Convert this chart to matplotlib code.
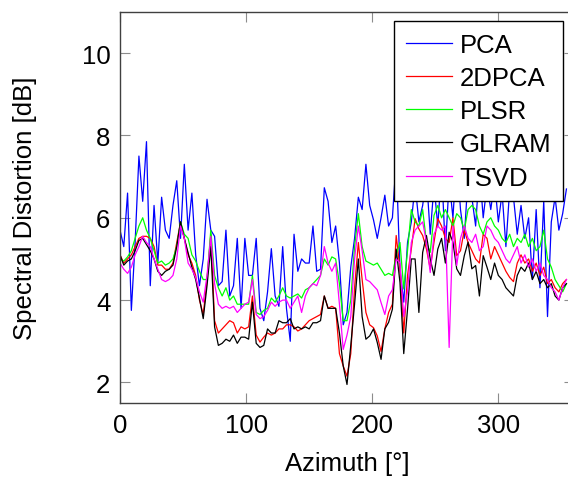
import numpy as np
import matplotlib
matplotlib.use("Agg")
import matplotlib.pyplot as plt

plt.rcParams['font.family'] = ['Liberation Sans', 'DejaVu Sans']

azimuth = list(range(0, 355, 3))

pca = [5.7, 5.3, 6.6, 3.75, 5.4, 7.5, 6.4, 7.85, 4.35, 6.3,
       4.9, 6.5, 5.7, 5.5, 6.3, 6.9, 5.5, 7.3, 5.7, 6.6,
       5.1, 4.35, 5.0, 6.45, 5.7, 5.55, 4.35, 4.45, 5.7, 4.1,
       4.35, 5.5, 3.8, 5.5, 4.6, 4.6, 5.5, 3.8, 3.5, 4.2,
       5.25, 4.1, 3.85, 5.3, 3.8, 3.0, 5.6, 4.7, 5.0, 4.9,
       4.9, 5.8, 4.7, 4.75, 6.73, 6.4, 5.4, 5.8, 4.9, 3.4,
       3.7, 4.8, 5.5, 6.5, 6.2, 7.3, 6.3, 5.95, 5.5, 6.0,
       6.55, 5.8, 6.0, 7.4, 4.76, 3.95, 5.4, 5.9, 6.8, 5.9,
       6.3, 7.0, 5.6, 6.8, 5.8, 7.2, 5.2, 6.9, 6.0, 7.5,
       6.2, 5.5, 7.0, 6.5, 5.8, 7.2, 6.0, 6.8, 6.2, 6.9,
       5.9, 6.6, 5.3, 6.7, 6.5, 5.6, 6.3, 5.5, 6.0, 4.5,
       6.2, 4.3, 6.4, 3.6, 5.9, 6.5, 5.7, 6.1, 6.7]

dpca2 = [5.1, 4.9, 5.0, 5.1, 5.3, 5.5, 5.55, 5.55, 5.5, 5.3,
         4.85, 4.85, 4.75, 4.75, 4.9, 5.4, 5.9, 5.5, 5.1, 4.9,
         4.6, 4.0, 3.65, 4.5, 5.6, 3.5, 3.2, 3.3, 3.4, 3.5,
         3.45, 3.2, 3.35, 3.3, 3.35, 4.1, 3.15, 2.98, 3.1, 3.2,
         3.15, 3.2, 3.3, 3.3, 3.4, 3.4, 3.35, 3.25, 3.3, 3.4,
         3.5, 3.55, 3.6, 3.65, 4.1, 3.8, 3.85, 3.8, 2.7, 2.4,
         2.15, 2.7, 4.3, 5.4, 4.5, 3.7, 3.4, 3.33, 3.13, 2.75,
         3.3, 3.7, 3.9, 5.57, 4.76, 3.2, 4.6, 5.24, 5.98, 5.73,
         5.57, 5.24, 4.76, 5.41, 5.98, 5.8, 5.5, 5.4, 6.0, 5.08,
         5.2, 5.7, 5.4, 5.2, 5.0, 4.9, 5.6, 5.5, 5.0, 5.3,
         5.1, 4.9, 4.7, 4.55, 4.45, 4.9, 5.1, 4.9, 5.0, 4.7,
         4.9, 4.6, 4.8, 4.4, 4.5, 4.3, 4.2, 4.4, 4.5]

plsr = [5.0, 4.95, 5.05, 5.2, 5.5, 5.8, 6.0, 5.7, 5.5, 5.2,
        4.9, 4.95, 4.85, 4.9, 5.0, 5.3, 5.9, 5.6, 5.5, 5.1,
        4.95, 4.7, 4.5, 4.5, 5.7, 4.6, 4.3, 4.1, 4.3, 4.0,
        4.1, 3.9, 3.9, 3.9, 3.9, 4.6, 3.7, 3.65, 3.75, 3.8,
        4.05, 3.95, 4.1, 4.3, 4.1, 4.05, 4.1, 4.15, 4.05, 4.25,
        4.3, 4.4, 4.5, 4.6, 5.0, 4.85, 5.05, 5.0, 4.4, 3.5,
        3.5, 4.0, 5.3, 6.1, 5.3, 4.95, 4.9, 4.85, 4.9, 4.75,
        4.6, 4.65, 4.6, 5.1, 5.4, 4.27, 5.2, 6.2, 5.9, 5.8,
        6.2, 5.4, 5.16, 6.06, 6.3, 6.0, 6.2, 6.0, 5.8, 6.1,
        6.0, 5.7, 6.2, 6.3, 6.2, 5.8, 5.6, 5.9, 6.0, 5.8,
        5.7, 5.5, 5.4, 5.6, 5.3, 5.5, 5.4, 5.6, 5.3, 5.5,
        5.2, 5.3, 5.7, 5.0, 4.8, 4.5, 4.35, 4.2, 4.4]

glram = [5.1, 4.85, 4.95, 5.0, 5.2, 5.45, 5.5, 5.35, 5.2, 5.0,
         4.7, 4.6, 4.7, 4.75, 4.85, 5.3, 5.9, 5.5, 5.15, 4.8,
         4.5, 4.05, 3.55, 4.35, 5.3, 3.35, 2.9, 2.95, 3.05, 3.0,
         3.15, 2.95, 3.1, 3.1, 3.05, 3.95, 2.95, 2.85, 2.9, 3.3,
         3.2, 3.2, 3.5, 3.45, 3.45, 3.55, 3.3, 3.35, 3.3, 3.35,
         3.3, 3.45, 3.45, 3.5, 4.1, 3.8, 3.8, 3.8, 3.2, 2.4,
         1.95, 2.9, 3.9, 5.0, 3.6, 3.05, 3.13, 3.3, 2.97, 2.56,
         3.3, 3.46, 3.78, 5.24, 4.43, 2.7, 3.78, 5.0, 5.0, 3.7,
         5.16, 5.57, 5.0, 4.6, 5.24, 5.5, 4.9, 5.65, 5.41, 4.76,
         4.6, 5.08, 5.41, 4.76, 4.84, 4.1, 5.08, 4.8, 4.5, 4.9,
         4.6, 4.5, 4.3, 4.2, 4.1, 4.6, 4.8, 4.7, 4.9, 4.5,
         4.7, 4.4, 4.5, 4.3, 4.4, 4.1, 4.0, 4.3, 4.4]

tsvd = [4.9, 4.75, 4.65, 4.8, 5.1, 5.3, 5.55, 5.4, 5.3, 5.0,
        4.75, 4.5, 4.45, 4.5, 4.6, 5.0, 5.8, 5.5, 4.9, 4.75,
        4.55, 4.2, 3.95, 4.6, 5.55, 4.4, 3.9, 3.8, 3.85, 3.8,
        3.85, 3.7, 3.8, 3.9, 3.95, 4.5, 3.65, 3.55, 3.6, 3.75,
        3.95, 3.85, 3.95, 4.0, 4.0, 3.8, 3.95, 4.1, 3.7, 4.1,
        4.3, 4.4, 4.35, 4.6, 5.3, 4.9, 4.7, 4.9, 3.9, 2.8,
        3.15, 3.6, 5.0, 5.8, 5.2, 4.5, 4.45, 4.35, 4.25, 3.94,
        3.65, 4.1, 4.25, 5.0, 4.9, 3.6, 4.2, 5.4, 5.7, 5.8,
        5.9, 5.4, 4.67, 5.6, 5.8, 5.7, 5.8, 2.85, 5.8, 4.84,
        5.5, 5.8, 5.5, 5.4, 5.6, 5.2, 5.3, 5.8, 5.7, 5.5,
        5.4, 5.2, 5.0, 4.9, 5.1, 5.3, 4.9, 5.1, 4.8, 5.0,
        4.7, 4.9, 4.6, 4.5, 4.3, 4.2, 4.0, 4.3, 4.5]

series = [("PCA", pca, "#0000ff"), ("2DPCA", dpca2, "#ff0000"),
          ("PLSR", plsr, "#00ff00"), ("GLRAM", glram, "#000000"),
          ("TSVD", tsvd, "#ff00ff")]

W, H = 568, 481
fig = plt.figure(figsize=(W / 100, H / 100), dpi=100)
ax = fig.add_axes([120 / W, 1 - 404 / H, (574 - 120) / W, (404 - 13) / H])

for name, vals, col in series:
    ax.plot(azimuth, vals, color=col, lw=0.9, label=name)

FS = 18.5
ax.set_xlim(0, 360)
ax.set_ylim(1.5, 11)
ax.set_xticks([0, 100, 200, 300])
ax.set_yticks([2, 4, 6, 8, 10])
ax.tick_params(direction='in', top=True, right=True, length=7, width=0.8,
               color='0.55', labelsize=FS, pad=7)
for s in ax.spines.values():
    s.set_linewidth(1.0)
    s.set_color('0.25')

ax.set_xlabel("Azimuth [°]", fontsize=FS, labelpad=10)
ax.set_ylabel("Spectral Distortion [dB]", fontsize=FS, labelpad=32)

leg = ax.legend(loc='upper right', bbox_to_anchor=(563 / W, 1 - 22 / H),
                bbox_transform=fig.transFigure, borderaxespad=0,
                fontsize=FS, frameon=True, fancybox=False, framealpha=1,
                edgecolor='black', handlelength=1.8, handletextpad=0.3,
                labelspacing=0.36, borderpad=0.45)
leg.get_frame().set_linewidth(1.0)

fig.savefig("out.png", dpi=100)
